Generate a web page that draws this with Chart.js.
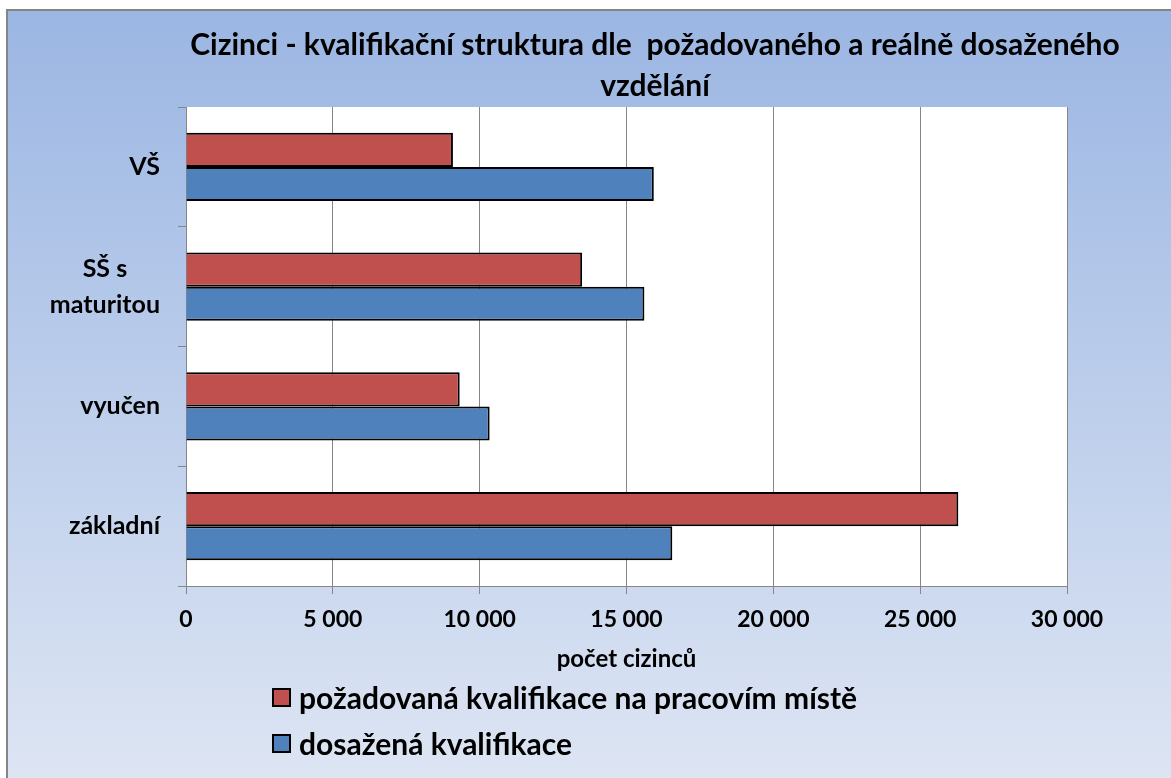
<!DOCTYPE html>
<html>
<head>
<meta charset="utf-8">
<script src="https://cdn.jsdelivr.net/npm/chart.js@4/dist/chart.umd.min.js"></script>
<style>
  html, body { margin: 0; padding: 0; overflow: hidden; background: #fff; }
  #wrap { position: relative; width: 1304px; height: 778px; }
  #legend { position: absolute; left: 272px; top: 674px; font-family: Lato, sans-serif; font-weight: 700; font-size: 30px; color: #000; }
  .item { display: flex; align-items: center; height: 46px; white-space: nowrap; }
  .sw { width: 15px; height: 15px; border: 2px solid #000; margin-right: 8px; flex: none; }
</style>
</head>
<body>
<div id="wrap">
  <canvas id="c" width="1304" height="778"></canvas>
  <div id="legend"></div>
</div>
<script>
// Education levels, top to bottom
const categories = [['VŠ'], ['SŠ s', 'maturitou'], ['vyučen'], ['základní']];
// Qualification required by the job
const requiredQual = [9090, 13490, 9320, 26300];
// Qualification actually attained
const achievedQual = [15930, 15610, 10340, 16560];
// Value axis labels
const xTickLabels = ['0', '5 000', '10 000', '15 000', '20 000', '25 000', '30 000'];
const seriesNames = ['požadovaná kvalifikace na pracovím místě', 'dosažená kvalifikace'];
const seriesColors = ['#C0504D', '#4F81BD'];

const FONT = 'Lato';

// Gradient panel, frame and white plot area
const backdrop = {
  id: 'backdrop',
  beforeDraw(chart) {
    const { ctx, width, height, chartArea: a } = chart;
    ctx.save();
    ctx.fillStyle = '#fff';
    ctx.fillRect(0, 0, width, height);
    const g = ctx.createLinearGradient(0, 9, 0, height);
    g.addColorStop(0, '#9BB6E3');
    g.addColorStop(1, '#DDE5F3');
    ctx.fillStyle = g;
    ctx.fillRect(6, 9, width - 6, height - 9);
    ctx.strokeStyle = '#858585';
    ctx.lineWidth = 2;
    ctx.beginPath();
    ctx.moveTo(7, height);
    ctx.lineTo(7, 10);
    ctx.lineTo(width, 10);
    ctx.stroke();
    ctx.fillStyle = '#fff';
    ctx.fillRect(a.left, a.top, a.right - a.left, a.bottom - a.top);
    ctx.restore();
  }
};

// Category labels: block right-aligned, lines centred within the block
const categoryLabels = {
  id: 'categoryLabels',
  afterDraw(chart) {
    const y = chart.scales.y;
    const ctx = chart.ctx;
    ctx.save();
    ctx.font = 'bold 25px ' + FONT;
    ctx.fillStyle = '#000';
    ctx.textAlign = 'center';
    ctx.textBaseline = 'middle';
    const right = y.right - 26;
    const lh = 36;
    chart.data.labels.forEach((lab, i) => {
      const lines = [].concat(lab);
      const w = Math.max(...lines.map(l => ctx.measureText(l).width));
      const cx = right - w / 2;
      const cy = y.getPixelForValue(i);
      lines.forEach((l, k) => ctx.fillText(l, cx, cy + (k - (lines.length - 1) / 2) * lh));
    });
    ctx.restore();
  }
};

const chart = new Chart(document.getElementById('c'), {
  type: 'bar',
  data: {
    labels: categories,
    datasets: [
      { label: seriesNames[0], data: requiredQual, backgroundColor: seriesColors[0], xAxisID: 'x', yAxisID: 'y' },
      { label: seriesNames[1], data: achievedQual, backgroundColor: seriesColors[1], xAxisID: 'x', yAxisID: 'y' }
    ]
  },
  options: {
    indexAxis: 'y',
    responsive: false,
    animation: false,
    devicePixelRatio: 1,
    datasets: {
      bar: {
        categoryPercentage: 0.57,
        barPercentage: 1.0,
        borderColor: '#000',
        borderWidth: 2,
        borderSkipped: 'start'
      }
    },
    layout: { padding: { left: 6, right: 0, top: 0, bottom: 102 } },
    scales: {
      x: {
        min: 0,
        max: 30000,
        ticks: {
          stepSize: 5000,
          autoSkip: false,
          maxRotation: 0,
          padding: 12,
          color: '#000',
          font: { family: FONT, weight: 'bold', size: 23 },
          callback: (v, i) => xTickLabels[i]
        },
        grid: { color: '#868686', lineWidth: 1, tickLength: 8 },
        border: { color: '#868686', width: 1 },
        title: {
          display: true,
          text: 'počet cizinců',
          color: '#000',
          font: { family: FONT, weight: 'bold', size: 24 },
          padding: { top: 0, bottom: 2 }
        },
        afterFit(s) { s.height = 90; }
      },
      y: {
        type: 'category',
        ticks: { display: false },
        grid: { drawOnChartArea: false, color: '#868686', tickLength: 8, offset: true },
        border: { color: '#868686', width: 1 },
        afterFit(s) { s.width = 180; }
      },
      // empty margin to the right of the plot area
      yMargin: {
        type: 'category',
        position: 'right',
        ticks: { display: false },
        grid: { display: false },
        border: { display: false },
        afterFit(s) { s.width = 237; }
      }
    },
    plugins: {
      legend: { display: false },
      tooltip: { enabled: false },
      title: {
        display: true,
        text: ['Cizinci - kvalifikační struktura dle  požadovaného a reálně dosaženého', 'vzdělání'],
        color: '#000',
        font: { family: FONT, weight: 'bold', size: 30, lineHeight: 1.367 },
        padding: { top: 25, bottom: 0 }
      }
    }
  },
  plugins: [backdrop, categoryLabels]
});

// Legend listed as two rows below the axis
const legendEl = document.getElementById('legend');
chart.data.datasets.forEach(ds => {
  const row = document.createElement('div');
  row.className = 'item';
  const sw = document.createElement('span');
  sw.className = 'sw';
  sw.style.background = ds.backgroundColor;
  const txt = document.createElement('span');
  txt.textContent = ds.label;
  row.appendChild(sw);
  row.appendChild(txt);
  legendEl.appendChild(row);
});
</script>
</body>
</html>
